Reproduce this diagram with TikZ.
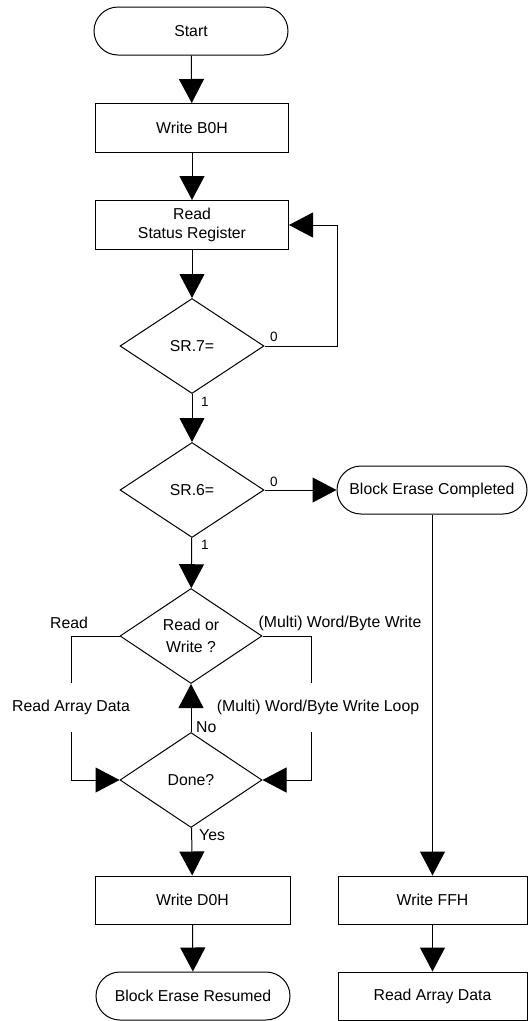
\documentclass[tikz,border=0pt]{standalone}
\usepackage{fontspec}
\setmainfont{Liberation Sans}
\usetikzlibrary{arrows.meta,shapes.geometric}
\tikzset{
  base/.style={draw, line width=1pt, font=\fontsize{15.8}{18}\selectfont, inner sep=0pt, align=center},
  term/.style={base, rectangle, rounded corners=24pt, minimum height=48pt},
  proc/.style={base, rectangle, minimum height=49pt},
  dec/.style={base, diamond, aspect=1.5, minimum width=144pt, minimum height=95pt},
  flow/.style={line width=1pt, -{Triangle[length=24pt,width=25pt]}},
  plain/.style={line width=1pt},
  lbl/.style={font=\fontsize{15.8}{18}\selectfont, inner sep=0pt},
  slbl/.style={font=\fontsize{13.5}{16}\selectfont, inner sep=0pt},
}
\begin{document}
\begin{tikzpicture}[x=1pt,y=-1pt]
\useasboundingbox (0,0) rectangle (528,1021);
% main column
\node[term, minimum width=194pt] (start) at (191,31) {Start};
\node[proc, minimum width=193pt] (b0h) at (192,128) {Write B0H};
\node[proc, minimum width=193pt] (rsr) at (192,225) {Read\\[1pt]Status Register};
\node[dec] (sr7) at (192,346) {SR.7=};
\node[dec] (sr6) at (192,490) {SR.6=};
\node[term, minimum width=190pt] (bec) at (432,490) {Block Erase Completed};
\node[dec, minimum width=142pt] (rw) at (191,636) {Read or\\[4pt]Write ?};
\node[dec, minimum width=142pt] (done) at (191,780) {Done?};
\node[proc, minimum width=195pt, minimum height=48pt] (d0h) at (192.5,900) {Write D0H};
\node[term, minimum width=194pt] (ber) at (193,996) {Block Erase Resumed};
\node[proc, minimum width=189pt, minimum height=48pt] (ffh) at (432.5,900) {Write FFH};
\node[proc, minimum width=189pt, minimum height=48pt] (rad) at (432.5,996) {Read Array Data};

% straight flows
\draw[flow] (start) -- (b0h);
\draw[flow] (b0h) -- (rsr);
\draw[flow] (rsr) -- (sr7);
\draw[flow] (sr7) -- (sr6);
\draw[flow] (sr6) -- (rw);
\draw[flow] (sr6) -- (bec);
\draw[flow] (bec.south -| ffh.north) -- (ffh.north);
\draw[flow] (ffh) -- (rad);
\draw[flow] (done) -- (rw);
\draw[flow] (done) -- (d0h);
\draw[flow] (d0h) -- (ber);

% loop back SR.7 = 0
\coordinate (loopc) at (337,346);
\draw[flow] (sr7.east) -- (loopc) |- (rsr.east);

% left branch (Read)
\coordinate (la) at (71,636);
\coordinate (lb) at (71,683);
\coordinate (lc) at (71,732);
\coordinate (ld) at (71,780);
\draw[plain] (rw.west) -- (la) -- (lb);
\draw[flow] (lc) -- (ld) -- (done.west);

% right branch (Write)
\coordinate (ra) at (311,636);
\coordinate (rb) at (311,683);
\coordinate (rc) at (311,732);
\coordinate (rd) at (311,780);
\draw[plain] (rw.east) -- (ra) -- (rb);
\draw[flow] (rc) -- (rd) -- (done.east);

% labels
\node[slbl] (l0a) at (274,337) {0};
\node[slbl] (l1a) at (205,402) {1};
\node[slbl] (l0b) at (274,482) {0};
\node[slbl] (l1b) at (205,545) {1};
\node[lbl] (lread) at (69,623) {Read};
\node[lbl] (lmw) at (340,623) {(Multi) Word/Byte Write};
\node[lbl] (lrad) at (71,707) {Read Array Data};
\node[lbl] (lmwl) at (318,707) {(Multi) Word/Byte Write Loop};
\node[lbl, anchor=west] (lno) at (196,727) {No};
\node[lbl, anchor=west] (lyes) at (199,835) {Yes};
\end{tikzpicture}
\end{document}
